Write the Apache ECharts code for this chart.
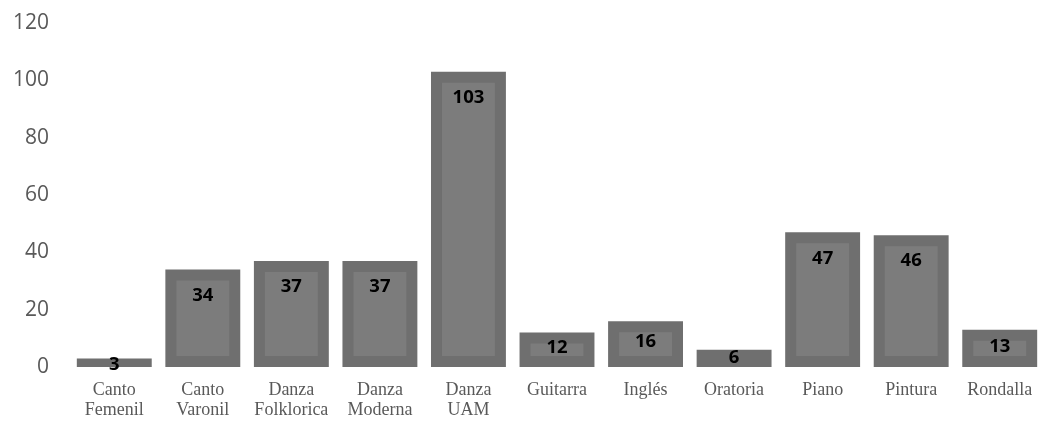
<!DOCTYPE html>
<html>
<head>
<meta charset="utf-8">
<script src="https://cdn.jsdelivr.net/npm/echarts@6/dist/echarts.min.js"></script>
<style>html,body{margin:0;padding:0;background:#fff}#c{width:1044px;height:424px}</style>
</head>
<body>
<div id="c"></div>
<script>
const categories = ['Canto\nFemenil','Canto\nVaronil','Danza\nFolklorica','Danza\nModerna','Danza\nUAM','Guitarra','Inglés','Oratoria','Piano','Pintura','Rondalla'];
const values = [3, 34, 37, 37, 103, 12, 16, 6, 47, 46, 13];
const yTicks = [0, 20, 40, 60, 80, 100, 120];

const chart = echarts.init(document.getElementById('c'), null, {renderer: 'canvas'});
const data = values.map((v, i) => [i, v]);
chart.setOption({
  animation: false,
  grid: {left: 70, right: 0, top: 23, bottom: 57, containLabel: false},
  xAxis: {
    type: 'category', data: categories,
    axisLine: {show: false}, axisTick: {show: false},
    axisLabel: {color: '#595959', fontFamily: 'Liberation Serif', fontSize: 18, lineHeight: 20, margin: 13, interval: 0}
  },
  yAxis: {
    type: 'value', min: yTicks[0], max: yTicks[yTicks.length - 1], interval: 20,
    splitLine: {show: false}, axisLine: {show: false}, axisTick: {show: false},
    axisLabel: {color: '#595959', fontFamily: 'Open Sans', fontSize: 21, margin: 21}
  },
  series: [{
    type: 'custom',
    data: data,
    encode: {x: 0, y: 1},
    renderItem: function (params, api) {
      const idx = api.value(0), v = api.value(1);
      const top = api.coord([idx, v]);
      const base = api.coord([idx, 0]);
      const bw = api.size([1, 0])[0] * 0.846;
      const h = base[1] - top[1];
      const x0 = top[0] - bw / 2;
      const children = [{
        type: 'rect', shape: {x: x0, y: top[1], width: bw, height: h},
        style: {fill: '#6f6f6f'}
      }];
      const inset = 11;
      if (h > 2 * inset + 2) {
        children.push({
          type: 'rect', shape: {x: x0 + inset, y: top[1] + inset, width: bw - 2 * inset, height: h - 2 * inset},
          style: {fill: '#7c7c7c'}
        });
      }
      children.push({
        type: 'text',
        style: {
          text: String(v), x: top[0], y: top[1] + Math.min(26, Math.max(h * 0.45, 6)),
          align: 'center', verticalAlign: 'middle',
          fill: '#000', font: 'bold 18.5px "Open Sans"'
        }
      });
      return {type: 'group', children: children};
    }
  }]
});
</script>
</body>
</html>
